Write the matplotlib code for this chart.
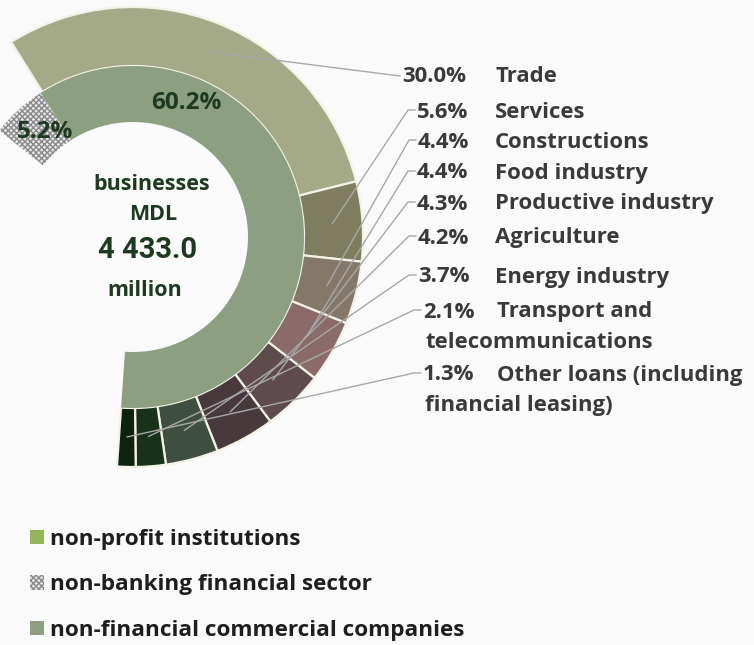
import numpy as np
import matplotlib
matplotlib.use('Agg')
import matplotlib.pyplot as plt
from matplotlib.patches import Patch

# Data
sector_names = ['Trade', 'Services', 'Constructions', 'Food industry',
                'Productive industry', 'Agriculture', 'Energy industry',
                'Transport and\ntelecommunications',
                'Other loans (including\nfinancial leasing)']
sector_shares = [30.0, 5.6, 4.4, 4.4, 4.3, 4.2, 3.7, 2.1, 1.3]
borrower_names = ['non-profit institutions', 'non-banking financial sector',
                  'non-financial commercial companies']
borrower_shares = [60.2, 5.2]   # commercial companies, non-banking financial
total_label = '4 433.0'

sector_colors = ['#a4a987', '#7e7d60', '#857869', '#8a6b69', '#5f4b4e',
                 '#483a3c', '#3e4f41', '#173218', '#0d220f']
green = '#8c9f80'
text_dark = '#1d3a21'
label_col = '#3a3a3a'

W, H = 754, 645
fig = plt.figure(figsize=(W / 100, H / 100), dpi=100)
fig.patch.set_facecolor('#fafafa')
ax = fig.add_axes([0, 0, 1, 1])
ax.set_facecolor('#fafafa')

cx, cy = 133, H - 237
R_out, R_mid, R_in = 230, 171, 115
start = 122

plt.rcParams['hatch.linewidth'] = 1.0
fam = ['Open Sans', 'DejaVu Sans']
fw = 'bold'
fs = 15.9

# outer ring: breakdown by sector
outer, _ = ax.pie(np.array(sector_shares) / 100, normalize=False, startangle=start,
                  counterclock=False, radius=R_out, center=(cx, cy),
                  colors=sector_colors,
                  wedgeprops=dict(width=R_out - R_mid, edgecolor='#f4f2e6', linewidth=1.6))

# inner ring: borrower type
inner, _ = ax.pie(np.array(borrower_shares) / 100, normalize=False,
                  startangle=start - sum(sector_shares) * 3.6, counterclock=True,
                  radius=R_mid, center=(cx, cy), colors=[green, '#e6e6e6'],
                  wedgeprops=dict(width=R_mid - R_in, linewidth=0))
inner[1].set_hatch('xxxxxx')
inner[1].set_edgecolor('#8a8a8a')
inner[1].set_linewidth(0)

# leader lines + labels
pct_x = [402, 417, 418, 417, 417, 418, 418, 423, 423]
row_y = [76, 112, 142, 173, 204, 238, 277, 312, 375]
name_x = 495
cum = 0
for i, (name, val) in enumerate(zip(sector_names, sector_shares)):
    mid = np.radians(start - (cum + val / 2) * 3.6)
    cum += val
    ax_, ay_ = cx + 200 * np.cos(mid), cy + 200 * np.sin(mid)
    lx, ly = pct_x[i], H - row_y[i]
    if i == 0:
        xs, ys = [ax_, lx - 2], [ay_, ly]
    else:
        xs, ys = [ax_, lx - 9, lx - 2], [ay_, ly + 2, ly + 2]
    ax.plot(xs, ys, color='#a8a8a8', lw=1.0, zorder=3)
    ax.text(lx, ly, f'{val:.1f}%', ha='left', va='center', fontsize=fs,
            fontweight=fw, color=label_col, family=fam)
    parts = name.split('\n')
    ax.text(name_x + (2 if i >= 7 else 0), ly, parts[0], ha='left', va='center',
            fontsize=fs, fontweight=fw, color=label_col, family=fam)
    if len(parts) > 1:
        ax.text(lx + 2, ly - 31, parts[1], ha='left', va='center', fontsize=fs,
                fontweight=fw, color=label_col, family=fam)

# inner labels
ax.text(186, H - 103, f'{borrower_shares[0]:.1f}%', ha='center', va='center',
        fontsize=17.5, fontweight=fw, color=text_dark, family=fam)
ax.text(45, H - 132, f'{borrower_shares[1]:.1f}%', ha='center', va='center',
        fontsize=17.5, fontweight=fw, color=text_dark, family=fam)

ax.text(152, H - 184, 'businesses', ha='center', va='center', fontsize=15.5,
        fontweight=fw, color=text_dark, family=fam)
ax.text(153, H - 215, 'MDL', ha='center', va='center', fontsize=15.5,
        fontweight=fw, color=text_dark, family=fam)
ax.text(148, H - 250, total_label, ha='center', va='center', fontsize=21,
        fontweight='bold', color=text_dark, family=['Roboto', 'DejaVu Sans'])
ax.text(145, H - 290, 'million', ha='center', va='center', fontsize=15.5,
        fontweight=fw, color=text_dark, family=fam)

# legend
handles = [Patch(facecolor='#93b65b', edgecolor='none'),
           Patch(facecolor='#e6e6e6', edgecolor='#8a8a8a', hatch='xxxxxx', linewidth=0),
           Patch(facecolor=green, edgecolor='none')]
leg = ax.legend(handles, borrower_names, loc='upper left',
                bbox_to_anchor=(30 / W, 1 - 529 / H), frameon=False, borderpad=0,
                borderaxespad=0, handlelength=0.6, handleheight=0.6, handletextpad=0.3,
                labelspacing=1.08, prop=dict(family=fam, weight=fw, size=16.2))
for t in leg.get_texts():
    t.set_color('#1e1e1e')

ax.set_xlim(0, W)
ax.set_ylim(0, H)
ax.set_aspect('equal')
ax.axis('off')

fig.savefig('out.png', dpi=100, facecolor=fig.get_facecolor())
